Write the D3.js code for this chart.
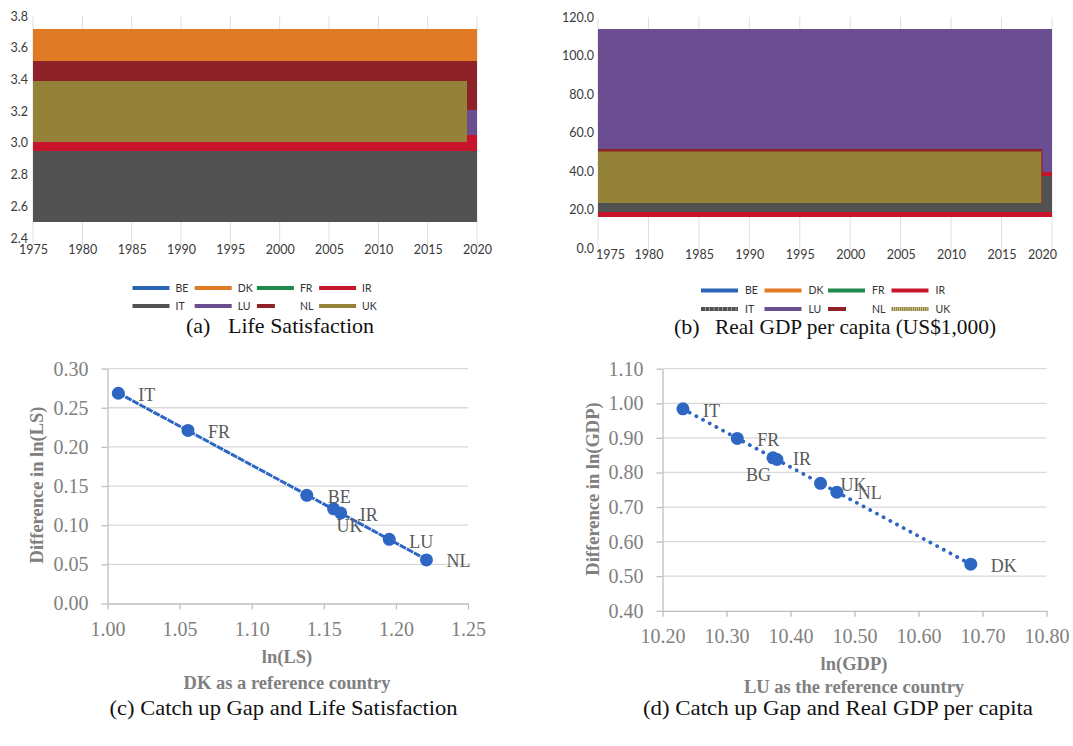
<!DOCTYPE html>
<html>
<head>
<meta charset="utf-8">
<script src="https://cdn.jsdelivr.net/npm/d3@7"></script>
<style>
  body { margin: 0; background: #fff; }
</style>
</head>
<body>
<svg id="fig" width="1073" height="746"></svg>
<script>
// ---- data ----
const years = [1975, 2019, 2020];          // value i holds from years[i] to years[i+1]
const yearTicks = [1975, 1980, 1985, 1990, 1995, 2000, 2005, 2010, 2015, 2020];
const legendRow1 = ["BE", "DK", "FR", "IR"];
const legendRow2 = ["IT", "LU", "NL", "UK"];
const colors = { BE: "#2a64b4", DK: "#e07a25", FR: "#1f8a4c", IR: "#c8142a",
                 IT: "#525252", LU: "#6b4e92", NL: "#8e2229", UK: "#948239" };

// (a) life satisfaction, drawn back to front
const lsOrder = ["DK", "NL", "LU", "UK", "IR", "IT"];
const lsValues = {
  DK: [3.72, 3.72, 3.72],
  NL: [3.515, 3.515, 3.515],
  LU: [3.21, 3.21, 3.21],
  UK: [3.39, 3.39, null],
  IR: [3.005, 3.05, 3.05],
  IT: [2.95, 2.95, 2.95]
};
const lsFloor = { DK: 2.5, NL: 2.5, LU: 2.5, UK: 2.5, IR: 2.5, IT: 2.5 };
const lsTicks = [2.4, 2.6, 2.8, 3.0, 3.2, 3.4, 3.6, 3.8];

// (b) real GDP per capita (US$1,000), drawn back to front
const gdpOrder = ["LU", "NL", "UK", "IR", "IT"];
const gdpValues = {
  LU: [113.9, 113.9, 113.9],
  NL: [51.6, 51.6, null],
  UK: [50.6, 50.6, null],
  IR: [19.2, 39.7, 39.7],
  IT: [23.6, 37.6, 37.6]
};
const gdpFloor = { LU: 16.3, NL: 16.3, UK: 16.3, IR: 16.3, IT: 19.2 };
const gdpTicks = [0, 20, 40, 60, 80, 100, 120];

// (c) catch up gap vs ln(LS), DK reference
const lsNames = ["IT", "FR", "BE", "UK", "IR", "LU", "NL"];
const lnLS =    [1.0075, 1.0558, 1.1382, 1.1568, 1.1617, 1.1954, 1.2212];
const gapLS =   [0.2685, 0.2210, 0.1381, 0.1209, 0.1157, 0.0820, 0.0557];
const lnLSTicks = [1.00, 1.05, 1.10, 1.15, 1.20, 1.25];
const gapLSTicks = [0.00, 0.05, 0.10, 0.15, 0.20, 0.25, 0.30];

// (d) catch up gap vs ln(GDP), LU reference
const gdpNames = ["IT", "FR", "BG", "IR", "UK", "NL", "DK"];
const lnGDP =    [10.2319, 10.3168, 10.3726, 10.3789, 10.4469, 10.4724, 10.6816];
const gapGDP =   [0.9840, 0.8985, 0.8424, 0.8375, 0.7687, 0.7431, 0.5347];
const lnGDPTicks = [10.2, 10.3, 10.4, 10.5, 10.6, 10.7, 10.8];
const gapGDPTicks = [0.4, 0.5, 0.6, 0.7, 0.8, 0.9, 1.0, 1.1];

// label nudges (px) for the scatter points
const nudgeC = { IT: [20, 1], FR: [20, 1], BE: [21, 1], UK: [3, 17], IR: [19, 2], LU: [20, 2], NL: [20, 1] };
const nudgeD = { IT: [20, 2], FR: [20, 1], BG: [-27, 17], IR: [16, -1], UK: [20, 1], NL: [21, 1], DK: [20, 1] };

const svg = d3.select("#fig");
const sans = "Lato, 'Open Sans', sans-serif";
const serif = "'Liberation Serif', 'Times New Roman', serif";

// ---------- area panels (a), (b) ----------
function areaPanel(o) {
  const x = d3.scaleLinear().domain([1975, 2020]).range(o.xRange);
  const y = d3.scaleLinear().domain(o.yDomain).range(o.yRange);
  const g = svg.append("g");

  g.selectAll("line.grid").data(yearTicks).enter().append("line")
    .attr("class", "grid")
    .attr("x1", d => x(d)).attr("x2", d => x(d))
    .attr("y1", o.gridTop).attr("y2", o.gridBottom)
    .attr("stroke", "#dedede").attr("stroke-width", 1);

  o.order.forEach(c => {
    const pts = years.map((yr, i) => ({ year: yr, v: o.values[c][i] }));
    const area = d3.area()
      .defined(d => d.v != null)
      .curve(d3.curveStepAfter)
      .x(d => x(d.year))
      .y0(y(o.floor[c]))
      .y1(d => y(d.v));
    g.append("path").datum(pts).attr("d", area)
      .attr("fill", colors[c]).attr("shape-rendering", "crispEdges");
    if (o.outlineUK && c === "UK") {
      // thin NL-coloured edge along the top and right side of the UK block
      const shown = pts.filter(d => d.v != null);
      const edge = shown.concat([{ year: shown[shown.length - 1].year, v: o.floor[c] }]);
      g.append("path").datum(edge)
        .attr("d", d3.line().x(d => x(d.year)).y(d => y(d.v)))
        .attr("fill", "none").attr("stroke", colors.NL).attr("stroke-width", 1.2);
    }
  });

  const ya = g.append("g").attr("transform", `translate(${o.yLabelX},0)`)
    .call(d3.axisLeft(y).tickValues(o.yTicks).tickFormat(d3.format(".1f")).tickSize(0).tickPadding(0));
  ya.select(".domain").remove();
  ya.selectAll("text").attr("font-family", sans).attr("font-size", 12.5).attr("fill", "#3a3a3a");

  const xa = g.append("g").attr("transform", `translate(0,${o.xLabelY})`)
    .call(d3.axisBottom(x).tickValues(yearTicks).tickFormat(d3.format("d")).tickSize(0).tickPadding(0));
  xa.select(".domain").remove();
  xa.selectAll("text").attr("font-family", sans).attr("font-size", 12.5).attr("fill", "#3a3a3a");
  // end labels pulled inside the plot
  const xt = xa.selectAll(".tick text").nodes();
  d3.select(xt[0]).attr("dx", o.endShift[0]);
  d3.select(xt[xt.length - 1]).attr("dx", o.endShift[1]);

  // legend
  [legendRow1, legendRow2].forEach((row, r) => {
    row.forEach((c, i) => {
      const lx = o.legendX + i * o.legendStep;
      const ly = o.legendY[r];
      const len = c === "NL" ? 18 : 37;
      const ln = g.append("line")
        .attr("x1", lx).attr("x2", lx + len)
        .attr("y1", ly).attr("y2", ly)
        .attr("stroke", colors[c]).attr("stroke-width", 4);
      if (o.textured && c === "UK") ln.attr("stroke-dasharray", "1.6 0.5");
      if (o.textured && c === "IT") ln.attr("stroke-dasharray", "4 0.4");
      g.append("text")
        .attr("x", lx + o.legendLabelDx).attr("y", ly)
        .attr("dy", "0.35em")
        .attr("font-family", sans).attr("font-size", 10.5).attr("fill", "#333")
        .text(c);
    });
  });

  // caption
  g.append("text").attr("x", o.capX[0]).attr("y", o.capY)
    .attr("font-family", serif).attr("font-size", 22).attr("fill", "#111")
    .text(o.capTag);
  g.append("text").attr("x", o.capX[1]).attr("y", o.capY)
    .attr("font-family", serif).attr("font-size", 22).attr("fill", "#111")
    .attr("textLength", o.capLen).attr("lengthAdjust", "spacingAndGlyphs")
    .text(o.capText);
}

areaPanel({
  xRange: [33, 477], yDomain: [2.4, 3.8], yRange: [238, 16],
  gridTop: 16, gridBottom: 246,
  order: lsOrder, values: lsValues, floor: lsFloor, yTicks: lsTicks,
  yLabelX: 28, xLabelY: 245, endShift: [0, 0],
  legendX: 132.5, legendStep: 62.2, legendY: [288, 306], legendLabelDx: 43,
  capX: [186, 228], capY: 333, capTag: "(a)", capText: "Life Satisfaction", capLen: 146
});

areaPanel({
  xRange: [598, 1052], yDomain: [0, 120], yRange: [248.5, 17.3],
  gridTop: 17, gridBottom: 252,
  order: gdpOrder, values: gdpValues, floor: gdpFloor, yTicks: gdpTicks,
  yLabelX: 594, xLabelY: 250.5, endShift: [12, -10],
  legendX: 701, legendStep: 63.5, legendY: [290.5, 309], legendLabelDx: 44,
  textured: true, outlineUK: true,
  capX: [674, 715], capY: 334, capTag: "(b)", capText: "Real GDP per capita (US$1,000)", capLen: 281
});

// ---------- scatter panels (c), (d) ----------
function scatterPanel(o) {
  const x = d3.scaleLinear().domain(d3.extent(o.xTicks)).range(o.xRange);
  const y = d3.scaleLinear().domain(d3.extent(o.yTicks)).range(o.yRange);
  const g = svg.append("g");
  const grey = "#808080";

  g.selectAll("line.grid").data(o.yTicks.slice(1)).enter().append("line")
    .attr("x1", o.xRange[0]).attr("x2", o.xRange[1])
    .attr("y1", d => y(d)).attr("y2", d => y(d))
    .attr("stroke", "#d9d9d9").attr("stroke-width", 1.3);

  const ya = g.append("g").attr("transform", `translate(${o.xRange[0]},0)`)
    .call(d3.axisLeft(y).tickValues(o.yTicks).tickFormat(d3.format(".2f")).tickSizeInner(6).tickSizeOuter(0).tickPadding(13));
  const xa = g.append("g").attr("transform", `translate(0,${o.yRange[0]})`)
    .call(d3.axisBottom(x).tickValues(o.xTicks).tickFormat(d3.format(".2f")).tickSizeInner(6).tickSizeOuter(0).tickPadding(12));
  [ya, xa].forEach(a => {
    a.select(".domain").attr("stroke", "#bfbfbf").attr("stroke-width", 1.3);
    a.selectAll(".tick line").attr("stroke", "#bfbfbf").attr("stroke-width", 1.3);
    a.selectAll("text").attr("font-family", serif).attr("font-size", 20).attr("fill", grey);
  });

  // linear trend line through the points
  const mx = d3.mean(o.xs), my = d3.mean(o.ys);
  const slope = d3.sum(o.xs, (v, i) => (v - mx) * (o.ys[i] - my)) / d3.sum(o.xs, v => (v - mx) * (v - mx));
  const fit = v => my + slope * (v - mx);
  const [x0, x1] = d3.extent(o.xs);
  g.append("line")
    .attr("x1", x(x0)).attr("y1", y(fit(x0)))
    .attr("x2", x(x1)).attr("y2", y(fit(x1)))
    .attr("stroke", "#2e67c3").attr("stroke-width", o.dashWidth)
    .attr("stroke-dasharray", o.dash).attr("stroke-linecap", o.cap);

  g.selectAll("circle").data(o.names).enter().append("circle")
    .attr("cx", (d, i) => x(o.xs[i])).attr("cy", (d, i) => y(o.ys[i]))
    .attr("r", 6.5).attr("fill", "#2e67c3");

  g.selectAll("text.lab").data(o.names).enter().append("text")
    .attr("class", "lab")
    .attr("x", (d, i) => x(o.xs[i]) + o.nudge[d][0])
    .attr("y", (d, i) => y(o.ys[i]) + o.nudge[d][1])
    .attr("dy", "0.35em")
    .attr("font-family", serif).attr("font-size", 18).attr("fill", "#595959")
    .text(d => d);

  const titleFont = 18.5;
  g.append("text")
    .attr("transform", `translate(${o.yTitlePos[0]},${o.yTitlePos[1]}) rotate(-90)`)
    .attr("text-anchor", "middle").attr("dy", "0.35em")
    .attr("font-family", serif).attr("font-weight", "bold").attr("font-size", titleFont).attr("fill", grey)
    .text(o.yTitle);
  g.append("text").attr("x", o.xTitleX).attr("y", o.xTitleY[0])
    .attr("text-anchor", "middle").attr("dy", "0.35em")
    .attr("font-family", serif).attr("font-weight", "bold").attr("font-size", titleFont).attr("fill", grey)
    .text(o.xTitle);
  g.append("text").attr("x", o.xTitleX).attr("y", o.xTitleY[1])
    .attr("text-anchor", "middle").attr("dy", "0.35em")
    .attr("font-family", serif).attr("font-weight", "bold").attr("font-size", titleFont).attr("fill", grey)
    .text(o.subTitle);

  g.append("text").attr("x", o.capX).attr("y", 715)
    .attr("font-family", serif).attr("font-size", 21).attr("fill", "#111")
    .attr("textLength", o.capLen).attr("lengthAdjust", "spacingAndGlyphs")
    .text(o.caption);
}

scatterPanel({
  xRange: [107.5, 468], yRange: [603.5, 368.6],
  xTicks: lnLSTicks, yTicks: gapLSTicks,
  xs: lnLS, ys: gapLS, names: lsNames, nudge: nudgeC,
  dash: "7 1", dashWidth: 3, cap: "butt",
  yTitle: "Difference in ln(LS)", yTitlePos: [37, 485],
  xTitle: "ln(LS)", subTitle: "DK as a reference country", xTitleX: 287, xTitleY: [657, 683],
  capX: 109.5, capLen: 348, caption: "(c) Catch up Gap and Life Satisfaction"
});

scatterPanel({
  xRange: [662.5, 1046.5], yRange: [610.8, 368.7],
  xTicks: lnGDPTicks, yTicks: gapGDPTicks,
  xs: lnGDP, ys: gapGDP, names: gdpNames, nudge: nudgeD,
  dash: "0.1 7.5", dashWidth: 3.8, cap: "round",
  yTitle: "Difference in ln(GDP)", yTitlePos: [593, 489],
  xTitle: "ln(GDP)", subTitle: "LU as the reference country", xTitleX: 854, xTitleY: [664, 687],
  capX: 643, capLen: 390, caption: "(d) Catch up Gap and Real GDP per capita"
});
</script>
</body>
</html>
